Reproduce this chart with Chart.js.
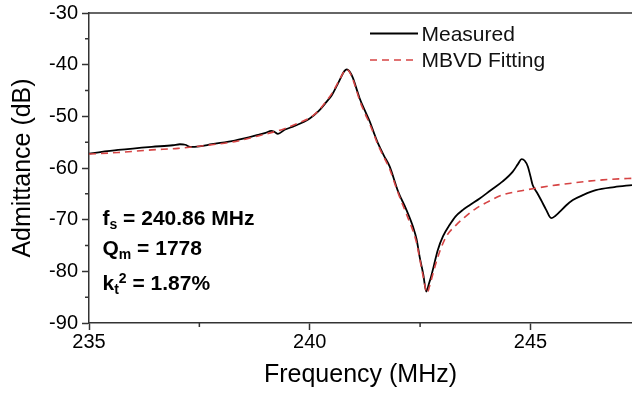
<!DOCTYPE html>
<html>
<head>
<meta charset="utf-8">
<script src="https://cdn.jsdelivr.net/npm/chart.js@4.4.0/dist/chart.umd.min.js"></script>
<style>
  html, body { margin: 0; padding: 0; background: #fff; }
  #wrap { width: 632px; height: 395px; }
</style>
</head>
<body>
<div id="wrap"><canvas id="chart"></canvas></div>
<script>
// Measured admittance
const measuredFreq = [235.0, 235.66, 236.42, 236.9, 237.06, 237.18, 237.29, 237.5, 237.78, 238.3,
  238.83, 239.0, 239.13, 239.2, 239.28, 239.43, 239.62, 240.0, 240.2, 240.38,
  240.5, 240.6, 240.7, 240.78, 240.84, 240.9, 240.98, 241.05, 241.13, 241.25,
  241.36, 241.45, 241.55, 241.68, 241.81, 242.0, 242.19, 242.34, 242.42, 242.49,
  242.57, 242.64, 242.7, 242.75, 242.82, 242.9, 243.02, 243.17, 243.3, 243.47,
  243.62, 243.85, 244.1, 244.37, 244.6, 244.72, 244.8, 244.87, 244.94, 245.0,
  245.05, 245.15, 245.24, 245.35, 245.47, 245.56, 245.66, 245.8, 245.96, 246.2,
  246.48, 246.9, 247.3];
const measuredDb = [-57.2, -56.5, -55.9, -55.6, -55.4, -55.5, -55.9, -55.8, -55.4, -54.7,
  -53.6, -53.2, -52.8, -53.0, -53.4, -52.6, -52.0, -50.4, -49.0, -47.2,
  -45.9, -44.3, -42.6, -41.3, -40.9, -41.3, -42.6, -44.4, -46.5, -48.9,
  -51.0, -53.1, -55.3, -57.6, -59.7, -64.5, -68.1, -71.4, -73.8, -77.2,
  -80.5, -83.9, -82.4, -81.0, -78.6, -75.9, -73.2, -71.0, -69.4, -68.1,
  -67.2, -65.9, -64.3, -62.6, -60.7, -59.2, -58.3, -58.6, -59.7, -61.6,
  -63.3, -64.8, -66.2, -68.0, -69.7, -69.3, -68.5, -67.3, -66.2, -65.2,
  -64.3, -63.7, -63.3];

// MBVD fitting curve
const fitFreq = [235.0, 235.66, 236.42, 237.02, 237.78, 238.3, 238.83, 239.43, 239.8, 240.0,
  240.2, 240.38, 240.5, 240.6, 240.7, 240.78, 240.84, 240.9, 240.98, 241.05,
  241.13, 241.25, 241.36, 241.45, 241.55, 241.68, 241.81, 242.0, 242.19, 242.34,
  242.42, 242.49, 242.57, 242.66, 242.71, 242.78, 242.86, 242.96, 243.09, 243.32,
  243.5, 243.77, 244.0, 244.37, 244.8, 245.13, 245.5, 245.88, 246.25, 246.64,
  247.0, 247.3];
const fitDb = [-57.3, -57.0, -56.5, -56.2, -55.5, -54.9, -53.8, -52.4, -51.1, -50.3,
  -48.9, -47.0, -45.6, -44.1, -42.5, -41.3, -40.9, -41.4, -42.9, -44.7,
  -46.9, -49.4, -51.5, -53.4, -55.6, -57.9, -60.2, -64.8, -68.9, -72.2,
  -74.5, -77.5, -81.0, -84.2, -83.0, -80.8, -78.4, -75.8, -73.3, -71.0,
  -69.6, -67.8, -66.7, -65.2, -64.4, -63.9, -63.4, -63.0, -62.6, -62.3,
  -62.1, -62.0];

const xMajorTicks = [235, 240, 245];
const xMinorTicks = [237.5, 242.5];
const yMajorTicks = [-90, -80, -70, -60, -50, -40, -30];
const yMinorTicks = [-85, -75, -65, -55, -45, -35];

const seriesLabels = ['Measured', 'MBVD Fitting'];
const annotationLines = [
  { main: 'f', sub: 's', sup: '', rest: ' = 240.86 MHz' },
  { main: 'Q', sub: 'm', sup: '', rest: ' = 1778' },
  { main: 'k', sub: 't', sup: '2', rest: ' = 1.87%' }
];

const axisColor = '#333333';
const fitColor = 'rgb(214, 68, 68)';
const fontFamily = '"Liberation Sans", Arial, Helvetica, sans-serif';

const toPoints = (xs, ys) => xs.map((v, i) => ({ x: v, y: ys[i] }));

// top frame line, minor ticks, legend and parameter text
const extrasPlugin = {
  id: 'extras',
  afterDraw(chart) {
    const { ctx, chartArea: area, scales: { x, y } } = chart;
    ctx.save();
    ctx.strokeStyle = axisColor;
    ctx.lineWidth = 1.5;
    ctx.beginPath();
    ctx.moveTo(area.left - 0.75, area.top);
    ctx.lineTo(area.right, area.top);
    ctx.stroke();

    ctx.beginPath();
    xMinorTicks.forEach(v => {
      const px = x.getPixelForValue(v);
      ctx.moveTo(px, area.bottom);
      ctx.lineTo(px, area.bottom + 4);
    });
    yMinorTicks.forEach(v => {
      const py = y.getPixelForValue(v);
      ctx.moveTo(area.left, py);
      ctx.lineTo(area.left - 4, py);
    });
    ctx.stroke();

    // legend
    const legendRows = [33.5, 60];
    chart.data.datasets.forEach((ds, i) => {
      ctx.strokeStyle = ds.borderColor;
      ctx.lineWidth = ds.borderWidth;
      ctx.setLineDash(ds.borderDash || []);
      ctx.beginPath();
      ctx.moveTo(370, legendRows[i]);
      ctx.lineTo(418, legendRows[i]);
      ctx.stroke();
      ctx.setLineDash([]);
      ctx.fillStyle = '#111';
      ctx.font = '21px ' + fontFamily;
      ctx.textBaseline = 'alphabetic';
      ctx.fillText(ds.label, 421.5, legendRows[i] + 7);
    });

    // fitted parameters
    const baselines = [225, 255, 290];
    ctx.fillStyle = '#000';
    annotationLines.forEach((ln, i) => {
      const base = baselines[i];
      let cx = 102.5;
      ctx.font = 'bold 21px ' + fontFamily;
      ctx.fillText(ln.main, cx, base);
      cx += ctx.measureText(ln.main).width;
      ctx.font = 'bold 14px ' + fontFamily;
      ctx.fillText(ln.sub, cx, base + 4);
      let subW = ctx.measureText(ln.sub).width;
      if (ln.sup) {
        ctx.fillText(ln.sup, cx + subW, base - 7);
        subW += ctx.measureText(ln.sup).width;
      }
      cx += subW;
      ctx.font = 'bold 21px ' + fontFamily;
      ctx.fillText(ln.rest, cx, base);
    });
    ctx.restore();
  }
};

new Chart(document.getElementById('chart'), {
  type: 'line',
  data: {
    datasets: [
      {
        label: seriesLabels[0],
        data: toPoints(measuredFreq, measuredDb),
        borderColor: '#000000',
        borderWidth: 1.8,
        pointRadius: 0,
        cubicInterpolationMode: 'monotone',
        fill: false,
        order: 2
      },
      {
        label: seriesLabels[1],
        data: toPoints(fitFreq, fitDb),
        borderColor: fitColor,
        borderWidth: 1.6,
        borderDash: [7, 5],
        pointRadius: 0,
        cubicInterpolationMode: 'monotone',
        fill: false,
        order: 1
      }
    ]
  },
  options: {
    responsive: true,
    maintainAspectRatio: false,
    animation: false,
    layout: { padding: { top: 13, right: 0, left: 0, bottom: 0 } },
    plugins: {
      legend: { display: false },
      tooltip: { enabled: false }
    },
    scales: {
      x: {
        type: 'linear',
        min: 235,
        max: 247.3,
        afterFit: (scale) => {
          scale.height = 72;
          scale.paddingLeft = 0;
          scale.paddingRight = 0;
        },
        afterBuildTicks: (scale) => { scale.ticks = xMajorTicks.map(v => ({ value: v })); },
        ticks: {
          color: '#000',
          font: { family: fontFamily, size: 20 },
          padding: 0,
          maxRotation: 0,
          callback: (v) => String(v)
        },
        grid: { display: true, drawOnChartArea: false, drawTicks: true, tickLength: 7, tickWidth: 1.5, tickColor: axisColor },
        border: { display: true, color: axisColor, width: 1.5 },
        title: {
          display: true,
          text: 'Frequency (MHz)',
          color: '#000',
          font: { family: fontFamily, size: 25 },
          padding: { top: 0, bottom: 5 }
        }
      },
      y: {
        type: 'linear',
        min: -90,
        max: -30,
        afterFit: (scale) => {
          scale.width = 89;
          scale.paddingTop = 0;
          scale.paddingBottom = 0;
        },
        afterBuildTicks: (scale) => { scale.ticks = yMajorTicks.map(v => ({ value: v })); },
        ticks: {
          color: '#000',
          font: { family: fontFamily, size: 20 },
          padding: 4,
          callback: (v) => String(v)
        },
        grid: { display: true, drawOnChartArea: false, drawTicks: true, tickLength: 7, tickWidth: 1.5, tickColor: axisColor },
        border: { display: true, color: axisColor, width: 1.5 },
        title: {
          display: true,
          text: 'Admittance (dB)',
          color: '#000',
          font: { family: fontFamily, size: 25 },
          padding: { top: 8, bottom: 0 }
        }
      }
    }
  },
  plugins: [extrasPlugin]
});
</script>
</body>
</html>
